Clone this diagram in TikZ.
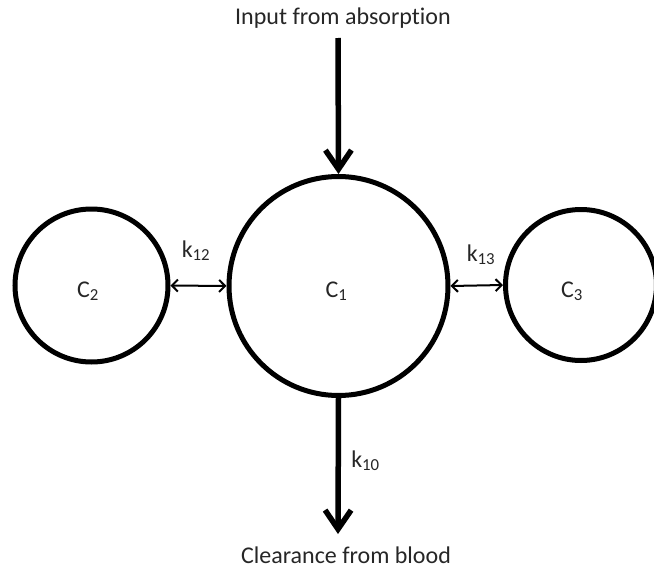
\documentclass[tikz,border=0pt]{standalone}
\usepackage{fontspec}
\setmainfont{Carlito}[Ligatures=CommonOff]
\usetikzlibrary{arrows.meta}
\begin{document}
\begin{tikzpicture}[x=1pt,y=-1pt,
  comp/.style={circle,draw=black,line width=5pt,inner sep=0pt},
  lbl/.style={inner sep=0pt,anchor=base,font=\fontsize{24}{28}\selectfont,text=black!85},
  bigarrow/.style={line width=5.5pt,-{Straight Barb[length=19pt,width=26pt]}},
  smallarrow/.style={line width=2pt,{Straight Barb[length=6pt,width=12pt]}-{Straight Barb[length=6pt,width=12pt]}}]
\useasboundingbox (0,0) rectangle (654,570);
\begin{scope}
\clip (0,0) rectangle (654,570);
\node[comp,minimum size=219pt] (c1) at (338.5,286) {};
\node[comp,minimum size=153pt] (c2) at (91.5,285.5) {};
\node[comp,minimum size=151pt] (c3) at (581,285) {};
\end{scope}
\node[lbl] (t1) at (336.5,297) {C\textsubscript{1}};
\node[lbl] (t2) at (88,297) {C\textsubscript{2}};
\node[lbl] (t3) at (572,297) {C\textsubscript{3}};
\node[lbl] (in) at (343,24) {Input from absorption};
\node[lbl] (out) at (346,563) {Clearance from blood};
\coordinate (instart) at (338,38);
\coordinate (outend) at (338,534);
\draw[bigarrow] (instart) -- (c1.north);
\draw[bigarrow] (c1.south) -- (outend);
\draw[smallarrow] (c2.east) -- (c1.west);
\draw[smallarrow] (c1.east) -- (c3.west);
\node[lbl] (k12) at (196,257) {k\textsubscript{12}};
\node[lbl] (k13) at (481,261) {k\textsubscript{13}};
\node[lbl] (k10) at (365.5,467) {k\textsubscript{10}};
\end{tikzpicture}
\end{document}
